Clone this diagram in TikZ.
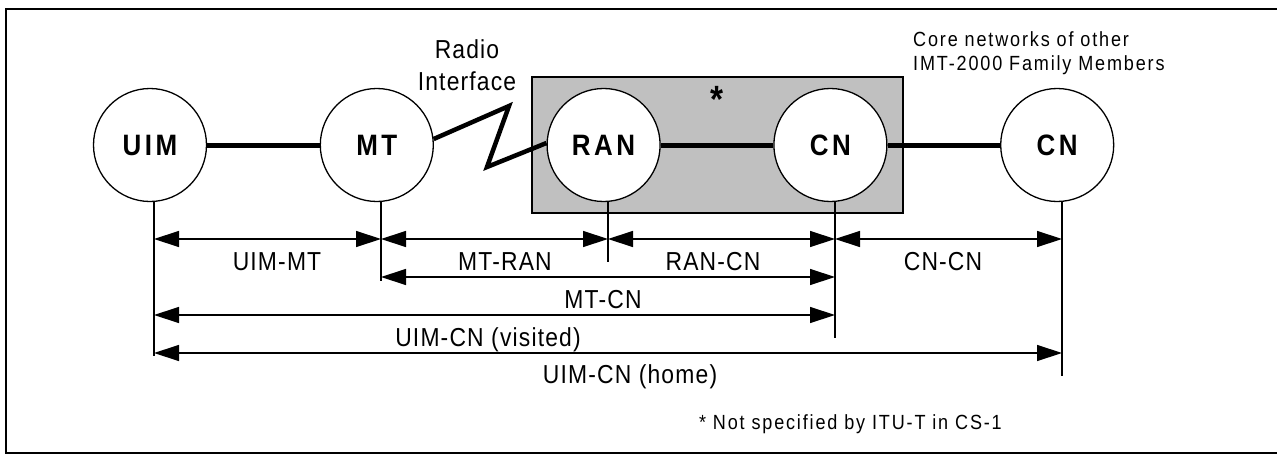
\documentclass[tikz,border=0pt]{standalone}
\usepackage{fontspec}
\setmainfont{Liberation Sans}[FakeStretch=0.88]
\newfontfamily\reffont{Liberation Sans}[FakeStretch=0.88,LetterSpace=4.5]
\newfontfamily\notefont{Liberation Sans}[FakeStretch=0.88,LetterSpace=9]
\newfontfamily\entfont{Liberation Sans}[FakeStretch=0.88,LetterSpace=12]
\usetikzlibrary{positioning,arrows.meta}
\definecolor{cloud}{RGB}{192,192,192}
\tikzset{entity/.style={circle,draw,fill=white,line width=1.3pt,inner sep=0pt,minimum size=113pt,
		font=\entfont\fontsize{29.5}{36}\selectfont\bfseries},
	 link/.style={line width=5pt},
	 tick/.style={line width=1.3pt},
	 ref/.style={line width=1.3pt,{Triangle[length=25pt,width=16pt]}-{Triangle[length=25pt,width=16pt]}},
	 reflabel/.style={anchor=base,inner sep=0pt,font=\reffont\fontsize{26}{32}\selectfont},
	 note/.style={inner sep=0pt,align=left,font=\notefont\fontsize{20.5}{24}\selectfont},
	 node distance = 112.5pt
	 }

\begin{document}
\begin{tikzpicture}[x=1pt,y=-1pt]
	\useasboundingbox (0,0) rectangle (1277,455);
	\draw[line width=2pt] (6,9) rectangle (1278,453);
	\draw[line width=2pt,fill=cloud] (532,77) rectangle (903,213);
	\node[entity] (uim) at (150,145) {UIM};
	\node[entity] (mt) [right= of uim] {MT};
	\node[entity] (ran) [right= of mt] {RAN};
	\node[entity] (cn) [right= of ran] {CN};
	\node[entity] (cnx) [right= of cn] {CN};
	\node[font=\entfont\fontsize{38}{40}\selectfont\bfseries,inner sep=0pt] (star) at (717,99) {*};
	\node[align=center,inner sep=0pt,font=\reffont\fontsize{26}{32}\selectfont] (radio) at (467,65.5) {Radio\\Interface};
	\node[note,anchor=west] (core) at (913,53.5) {Core networks of other\\IMT-2000 Family Members};
	\node[note,anchor=base east] (foot) at (1002,429) {* Not specified by ITU-T in CS-1};
	\coordinate (z1) at (509,106); \coordinate (z2) at (487,167);
	\draw[link] (uim) to (mt);
	\draw[link,line width=4.5pt] (mt.6) -- (z1) -- (z2) -- (ran.178);
	\draw[link] (ran) to (cn) to (cnx);
	% reference points
	\coordinate (uim-t) at (154,356); \coordinate (mt-t) at (381,281);
	\coordinate (ran-t) at (608,262); \coordinate (cn-t) at (835,338);
	\coordinate (cnx-t) at (1062,376);
	\coordinate (r1) at (0,239); \coordinate (r2) at (0,277);
	\coordinate (r3) at (0,315); \coordinate (r4) at (0,353);
	\foreach \n in {uim,mt,ran,cn,cnx}
		\draw[tick] (\n-t |- \n.south) -- (\n-t);
	\draw[ref] (uim-t |- r1) -- (mt-t |- r1);
	\draw[ref] (mt-t |- r1) -- (ran-t |- r1);
	\draw[ref] (ran-t |- r1) -- (cn-t |- r1);
	\draw[ref] (cn-t |- r1) -- (cnx-t |- r1);
	\draw[ref] (mt-t |- r2) -- (cn-t |- r2);
	\draw[ref] (uim-t |- r3) -- (cn-t |- r3);
	\draw[ref] (uim-t |- r4) -- (cnx-t |- r4);
	\node[reflabel] (l-uimmt) at (277,270) {UIM-MT};
	\node[reflabel] (l-mtran) at (505,270) {MT-RAN};
	\node[reflabel] (l-rancn) at (713,270) {RAN-CN};
	\node[reflabel] (l-cncn) at (943,270) {CN-CN};
	\node[reflabel] (l-mtcn) at (603,308) {MT-CN};
	\node[reflabel] (l-visit) at (488,346) {UIM-CN (visited)};
	\node[reflabel] (l-home) at (630,383) {UIM-CN (home)};
\end{tikzpicture}
\end{document}
